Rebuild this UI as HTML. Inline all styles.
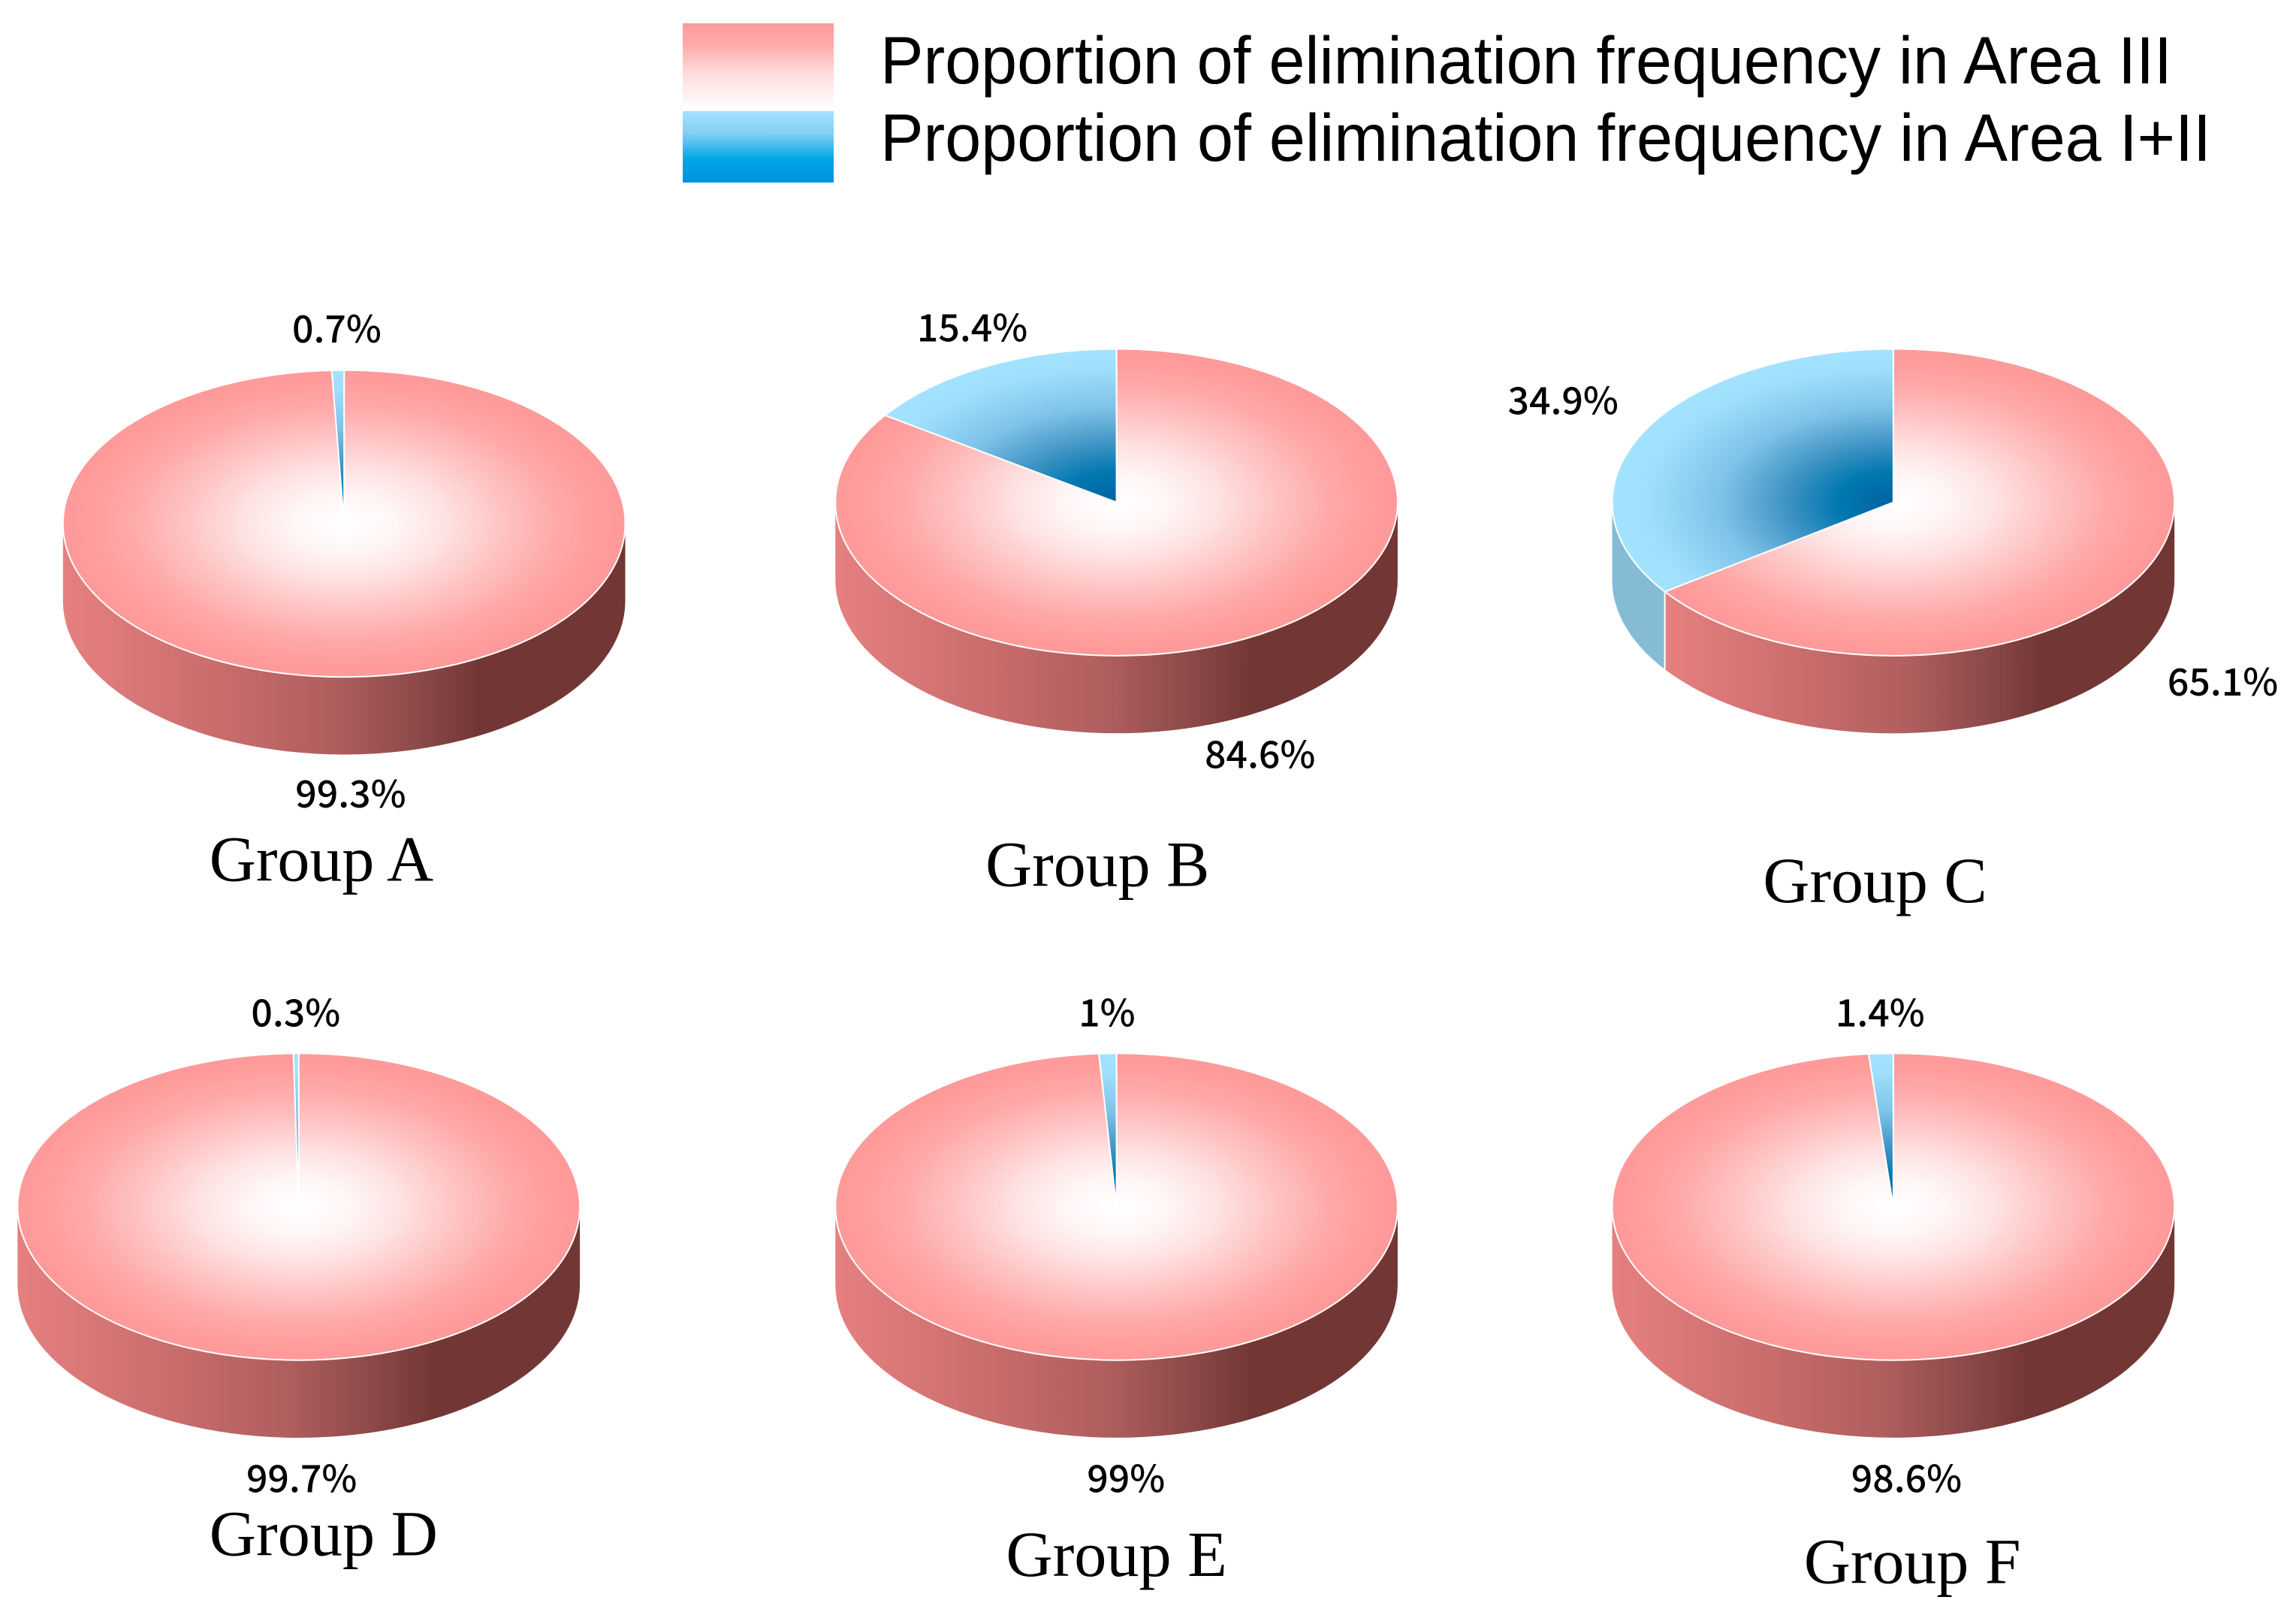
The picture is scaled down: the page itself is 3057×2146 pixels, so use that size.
<!DOCTYPE html>
<html lang="en">
<head>
<meta charset="utf-8">
<title>Proportion of elimination frequency by group</title>
<style>
html,body{margin:0;padding:0;background:#fff;}
svg{display:block;}
</style>
</head>
<body>
<svg id="chart" xmlns="http://www.w3.org/2000/svg" width="3057" height="2146" viewBox="0 0 3057 2146">
  <defs>
    <linearGradient id="legend-red" x1="0" y1="0" x2="0" y2="1">
      <stop offset="0" stop-color="#ff9a9a"/>
      <stop offset="0.25" stop-color="#ffaaaa"/>
      <stop offset="0.6" stop-color="#ffdcdc"/>
      <stop offset="1" stop-color="#ffffff"/>
    </linearGradient>
    <linearGradient id="legend-blue" x1="0" y1="0" x2="0" y2="1">
      <stop offset="0" stop-color="#a3e3ff"/>
      <stop offset="0.3" stop-color="#85d0f4"/>
      <stop offset="0.68" stop-color="#00a5e6"/>
      <stop offset="1" stop-color="#008fe0"/>
    </linearGradient>
    <linearGradient id="side-red" x1="0" y1="0" x2="1" y2="0">
      <stop offset="0" stop-color="#e68080"/>
      <stop offset="0.25" stop-color="#cc6e6e"/>
      <stop offset="0.48" stop-color="#b05e5e"/>
      <stop offset="0.62" stop-color="#8e4b4a"/>
      <stop offset="0.74" stop-color="#723735"/>
      <stop offset="1" stop-color="#723735"/>
    </linearGradient>
  </defs>
  <g>
    <rect x="909" y="31" width="201" height="113" fill="url(#legend-red)"/>
    <rect x="909" y="148" width="201" height="95" fill="url(#legend-blue)"/>
    <text x="1172" y="111" font-family="'Liberation Sans', sans-serif" font-size="89" fill="#000" textLength="1720" lengthAdjust="spacingAndGlyphs">Proportion of elimination frequency in Area III</text>
    <text x="1172" y="214" font-family="'Liberation Sans', sans-serif" font-size="89" fill="#000" textLength="1772" lengthAdjust="spacingAndGlyphs">Proportion of elimination frequency in Area I+II</text>
  </g>
</svg>
<script>
// Chart data
const groupNames = ['Group A', 'Group B', 'Group C', 'Group D', 'Group E', 'Group F'];
const areaOneTwoShare = [0.7, 15.4, 34.9, 0.3, 1, 1.4];
const areaThreeShare = [99.3, 84.6, 65.1, 99.7, 99, 98.6];

// Layout (separate from the data)
const K = 3057 / 1568;
const RX = 192 * K, RY = 104.75 * K, DEPTH = 53 * K;
const pieLayout = [
  { cx: 235,    cy: 357.5, top: [230, 234],   bottom: [239.5, 551.5], title: [143, 601.5],  titleW: 153 },
  { cx: 762.5,  cy: 343,   top: [664, 233],   bottom: [860.5, 524.5], title: [673, 605],  titleW: 153 },
  { cx: 1293,   cy: 343,   top: [1067.5, 283],  bottom: [1518, 475],  title: [1204, 616], titleW: 153 },
  { cx: 204,    cy: 824,   top: [202, 701],   bottom: [206, 1019],  title: [143, 1062], titleW: 156 },
  { cx: 762.5,  cy: 824,   top: [756, 701],   bottom: [769, 1019],  title: [687, 1076], titleW: 151 },
  { cx: 1293,   cy: 824,   top: [1284, 701],  bottom: [1302, 1019], title: [1232, 1081], titleW: 148 }
];

const NS = 'http://www.w3.org/2000/svg';
const svg = document.getElementById('chart');
const defs = svg.querySelector('defs');

// Axis function: share (%) to clockwise angle from 12 o'clock, in radians
function shareToAngle(p) { return p * 3.6 * Math.PI / 180; }
function rimPoint(cx, cy, a) { return [cx + RX * Math.sin(a), cy - RY * Math.cos(a)]; }

function make(tag, attrs) {
  const el = document.createElementNS(NS, tag);
  for (const k in attrs) el.setAttribute(k, attrs[k]);
  return el;
}

function radial(id, cx, cy, stops) {
  const g = make('radialGradient', {
    id: id, gradientUnits: 'userSpaceOnUse', cx: 0, cy: 0, r: 1,
    gradientTransform: 'translate(' + cx + ' ' + cy + ') scale(' + RX + ' ' + RY + ')'
  });
  stops.forEach(function (s) {
    g.appendChild(make('stop', { offset: s[0], 'stop-color': s[1] }));
  });
  defs.appendChild(g);
}

const redStops = [[0, '#ffffff'], [0.18, '#fff6f6'], [0.36, '#ffe2e2'], [0.56, '#ffc4c4'], [0.76, '#ffa9a9'], [0.93, '#ff9b9b'], [1, '#ff9a9a']];
const blueStops = [[0, '#0062a2'], [0.2, '#0078b0'], [0.38, '#3f93c4'], [0.62, '#7fc3e8'], [0.88, '#a0e0fd'], [1, '#a3e3ff']];

function slicePath(cx, cy, a0, a1) {
  const p0 = rimPoint(cx, cy, a0), p1 = rimPoint(cx, cy, a1);
  const large = a1 - a0 > Math.PI ? 1 : 0;
  return 'M' + cx + ' ' + cy + 'L' + p0[0] + ' ' + p0[1] +
    'A' + RX + ' ' + RY + ' 0 ' + large + ' 1 ' + p1[0] + ' ' + p1[1] + 'Z';
}

function sidePath(cx, cy, a0, a1) {
  const p0 = rimPoint(cx, cy, a0), p1 = rimPoint(cx, cy, a1);
  return 'M' + p0[0] + ' ' + p0[1] +
    'A' + RX + ' ' + RY + ' 0 0 1 ' + p1[0] + ' ' + p1[1] +
    'L' + p1[0] + ' ' + (p1[1] + DEPTH) +
    'A' + RX + ' ' + RY + ' 0 0 0 ' + p0[0] + ' ' + (p0[1] + DEPTH) + 'Z';
}

function label(parent, txt, x, y, name) {
  const t = make('text', {
    x: x * K, y: y * K, 'text-anchor': 'middle', fill: '#000', 'font-size': 50,
    'font-weight': 500,
    'font-family': '"Noto Sans CJK SC", "Liberation Sans", sans-serif'
  });
  
  
  t.textContent = txt;
  parent.appendChild(t);
}

groupNames.forEach(function (name, i) {
  const L = pieLayout[i];
  const cx = L.cx * K, cy = L.cy * K;
  const slug = name.toLowerCase().replace(' ', '-');
  const blue = areaOneTwoShare[i], red = areaThreeShare[i];
  const seam = shareToAngle(red);          // red runs clockwise from 12 o'clock
  const full = 2 * Math.PI;
  const sideStart = Math.PI / 2, sideEnd = 3 * Math.PI / 2;

  radial('top-red-' + i, cx, cy, redStops);
  radial('top-blue-' + i, cx, cy, blueStops);

  const g = make('g', {});
  
  

  // Side wall, blue part first
  if (seam < sideEnd) {
    const sb = make('path', { d: sidePath(cx, cy, Math.max(seam, sideStart), sideEnd), fill: '#85bbd5' });
    
    
    g.appendChild(sb);
  }
  const sr = make('path', { d: sidePath(cx, cy, sideStart, Math.min(seam, sideEnd)), fill: 'url(#side-red)' });
  
  
  g.appendChild(sr);

  if (seam < sideEnd) {
    const p = rimPoint(cx, cy, seam);
    const ln = make('line', { x1: p[0], y1: p[1], x2: p[0], y2: p[1] + DEPTH, stroke: '#fff', 'stroke-width': 2 });
    
    
    g.appendChild(ln);
  }

  // Top faces
  const tr = make('path', { d: slicePath(cx, cy, 0, seam), fill: 'url(#top-red-' + i + ')', stroke: '#fff', 'stroke-width': 2, 'stroke-linejoin': 'round' });
  
  
  g.appendChild(tr);

  const tb = make('path', { d: slicePath(cx, cy, seam, full), fill: 'url(#top-blue-' + i + ')', stroke: '#fff', 'stroke-width': 2, 'stroke-linejoin': 'round' });
  
  
  g.appendChild(tb);

  label(g, blue + '%', L.top[0], L.top[1], slug + '-value-area-i-ii');
  label(g, red + '%', L.bottom[0], L.bottom[1], slug + '-value-area-iii');

  const title = make('text', {
    x: L.title[0] * K, y: L.title[1] * K, fill: '#000', 'font-size': 86,
    'font-family': '"Liberation Serif", serif',
    textLength: L.titleW * K, lengthAdjust: 'spacingAndGlyphs'
  });
  
  
  title.textContent = name;
  g.appendChild(title);

  svg.appendChild(g);
});
</script>
</body>
</html>
